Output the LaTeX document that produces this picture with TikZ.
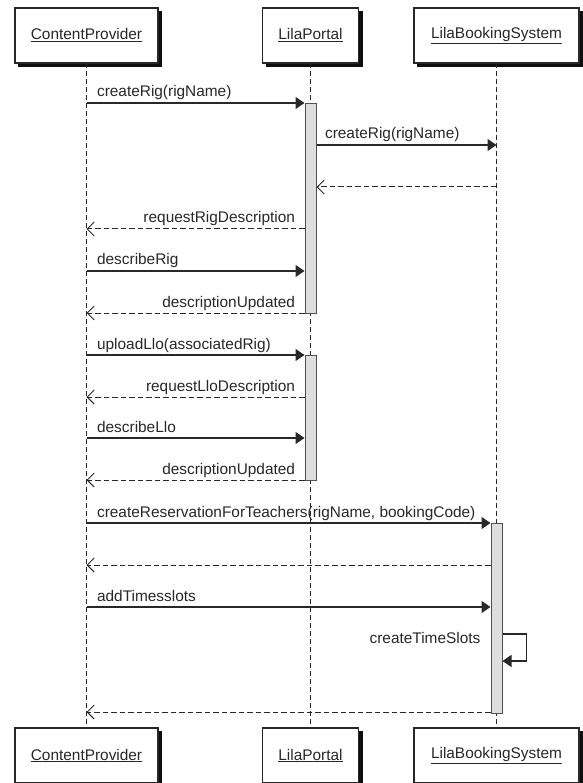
\documentclass[tikz,border=0pt]{standalone}
\usepackage{fontspec}
\setmainfont{Liberation Sans}
\usepackage{tikz}
\usetikzlibrary{arrows.meta,calc}
\definecolor{linegray}{RGB}{40,40,40}
\definecolor{shadowcol}{RGB}{15,15,15}
\definecolor{barfill}{RGB}{222,222,222}
\definecolor{bardraw}{RGB}{80,80,80}
\tikzset{
  objbox/.style={rectangle,draw=linegray,line width=1.3pt,fill=white,minimum height=55pt,inner sep=0pt,outer sep=0pt,text=linegray,font=\fontsize{15.4}{18}\selectfont},
  shadowline/.style={draw=shadowcol,line width=3.6pt,line cap=rect},
  lifeline/.style={draw=linegray,line width=1.1pt,dash pattern=on 5pt off 3pt},
  actbar/.style={rectangle,draw=bardraw,fill=barfill,line width=1pt,minimum width=11pt,inner sep=0pt,anchor=north},
  callarr/.style={-{Triangle[length=9pt,width=12pt]},line width=1.2pt,color=linegray},
  retarr/.style={-{Straight Barb[length=7pt,width=14pt]},line width=1pt,dash pattern=on 5.5pt off 3pt,color=linegray},
  lbl/.style={inner sep=0pt,text=linegray,font=\fontsize{15.4}{18}\selectfont},
  lblL/.style={lbl,anchor=base west,xshift=10pt,yshift=6pt},
  lblR/.style={lbl,anchor=base east,xshift=-9pt,yshift=6pt}
}
\newcommand{\boxshade}[1]{%
  \draw[shadowline] ($(#1.north east)+(2.6,5)$) -- ($(#1.south east)+(2.6,2.6)$) -- ($(#1.south west)+(5,2.6)$);
}

\begin{document}
\begin{tikzpicture}[x=1pt,y=-1pt]
  \fill[white] (0,0) rectangle (582,783);
  \useasboundingbox (0,0) rectangle (582,783);
  \node[objbox,minimum width=143pt] (cpT) at (86.5,35.5) {\underline{ContentProvider}};
  \node[objbox,minimum width=96pt] (lpT) at (310.5,35.5) {\underline{LilaPortal}};
  \node[objbox,minimum width=165pt] (lbT) at (496.5,35.5) {\underline{LilaBookingSystem}};
  \node[objbox,minimum width=143pt] (cpB) at (86.5,755.5) {\underline{ContentProvider}};
  \node[objbox,minimum width=96pt] (lpB) at (310.5,755.5) {\underline{LilaPortal}};
  \node[objbox,minimum width=165pt] (lbB) at (496.5,755.5) {\underline{LilaBookingSystem}};
  \boxshade{cpT}
  \boxshade{lpT}
  \boxshade{lbT}
  \boxshade{cpB}
  \boxshade{lpB}
  \boxshade{lbB}
  \draw[lifeline] (cpT.south) -- (cpB.north);
  \draw[lifeline] (lpT.south) -- (lpB.north);
  \draw[lifeline] (lbT.south) -- (lbB.north);

  \coordinate (r1) at (0,103);
  \coordinate (r2) at (0,145);
  \coordinate (r3) at (0,187);
  \coordinate (r4) at (0,229);
  \coordinate (r5) at (0,271);
  \coordinate (r6) at (0,313);
  \coordinate (r7) at (0,355);
  \coordinate (r8) at (0,397);
  \coordinate (r9) at (0,438);
  \coordinate (r10) at (0,480);
  \coordinate (r11) at (0,523);
  \coordinate (r12) at (0,565);
  \coordinate (r13) at (0,607);
  \coordinate (rLoopA) at (0,634);
  \coordinate (rLoopB) at (0,661);
  \coordinate (r14) at (0,712);

  \node[actbar,minimum height=210pt] (bar1) at (lpT.south |- r1) {};
  \node[actbar,minimum height=125pt] (bar2) at (lpT.south |- r7) {};
  \node[actbar,minimum height=190pt] (bar3) at (lbT.south |- r11) {};

  \draw[callarr] (cpT.south |- r1) -- (bar1.west |- r1) node[pos=0,lblL] {createRig(rigName)};
  \draw[callarr] (bar1.east |- r2) -- (lbT.south |- r2) node[pos=0,lblL,xshift=-2pt] {createRig(rigName)};
  \draw[retarr] (lbT.south |- r3) -- (bar1.east |- r3);
  \draw[retarr] (bar1.west |- r4) -- (cpT.south |- r4) node[pos=0,lblR] {requestRigDescription};
  \draw[callarr] (cpT.south |- r5) -- (bar1.west |- r5) node[pos=0,lblL] {describeRig};
  \draw[retarr] (bar1.west |- r6) -- (cpT.south |- r6) node[pos=0,lblR] {descriptionUpdated};
  \draw[callarr] (cpT.south |- r7) -- (bar2.west |- r7) node[pos=0,lblL] {uploadLlo(associatedRig)};
  \draw[retarr] (bar2.west |- r8) -- (cpT.south |- r8) node[pos=0,lblR] {requestLloDescription};
  \draw[callarr] (cpT.south |- r9) -- (bar2.west |- r9) node[pos=0,lblL] {describeLlo};
  \draw[retarr] (bar2.west |- r10) -- (cpT.south |- r10) node[pos=0,lblR] {descriptionUpdated};
  \draw[callarr] (cpT.south |- r11) -- (bar3.west |- r11) node[pos=0,lblL] {createReservationForTeachers(rigName, bookingCode)};
  \draw[retarr] (bar3.west |- r12) -- (cpT.south |- r12);
  \draw[callarr] (cpT.south |- r13) -- (bar3.west |- r13) node[pos=0,lblL] {addTimesslots};
  \draw[callarr] (bar3.east |- rLoopA) -- ++(24,0) |- (bar3.east |- rLoopB);
  \node[lbl,anchor=base east] (ctsLbl) at ($(bar3.west |- rLoopA)+(-10,9)$) {createTimeSlots};
  \draw[retarr] (bar3.west |- r14) -- (cpT.south |- r14);
\end{tikzpicture}
\end{document}
